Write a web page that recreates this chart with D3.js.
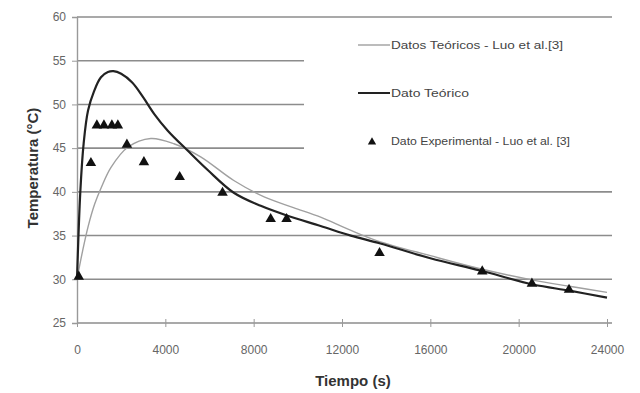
<!DOCTYPE html>
<html>
<head>
<meta charset="utf-8">
<script src="https://cdn.jsdelivr.net/npm/d3@7"></script>
<style>
  body { margin: 0; background: #fff; }
  text { font-family: "Liberation Sans", Arial, sans-serif; }
</style>
</head>
<body>
<svg width="640" height="393"></svg>
<script>
// values
var xTicks = [0, 4000, 8000, 12000, 16000, 20000, 24000];
var yTicks = [25, 30, 35, 40, 45, 50, 55, 60];

// Dato Teorico (black line)
var teoT = [0, 150, 300, 500, 770, 1085, 1400, 1650, 2000, 2500, 3000, 3500, 4110, 5020, 5920, 7100, 8320, 9500, 11030, 12400, 13740, 16000, 18260, 20660, 22300, 24000];
var teoV = [30, 40, 45.5, 49.3, 51.5, 53.1, 53.7, 53.8, 53.5, 52.5, 50.8, 48.9, 47.0, 44.7, 42.5, 39.9, 38.4, 37.3, 36.1, 35.0, 34.1, 32.4, 31.0, 29.4, 28.7, 27.9];

// Datos Teoricos - Luo et al.[3] (grey line)
var luoT = [0, 250, 500, 800, 1100, 1540, 2300, 3340, 4390, 5600, 7100, 8500, 9800, 11030, 12300, 13600, 16000, 18260, 20660, 22300, 24000];
var luoV = [30, 33.2, 36.0, 38.6, 40.5, 42.8, 45.1, 46.1, 45.5, 44.0, 41.3, 39.4, 38.2, 37.1, 35.7, 34.4, 32.7, 31.2, 29.9, 29.2, 28.5];

// Dato Experimental - Luo et al. [3] (triangles)
var expT = [80, 630, 900, 1220, 1580, 1850, 2260, 3030, 4650, 6590, 8770, 9490, 13700, 18350, 20600, 22280];
var expV = [30.3, 43.3, 47.6, 47.6, 47.6, 47.6, 45.4, 43.4, 41.7, 39.9, 36.9, 36.9, 33.0, 30.9, 29.5, 28.8];

var legendLabels = ["Datos Teóricos - Luo et al.[3]", "Dato Teórico", "Dato Experimental - Luo et al.  [3]"];

var svg = d3.select("svg");
var mLeft = 77, mRight = 607, mTop = 17, mBottom = 323;

var x = d3.scaleLinear().domain([0, 24000]).range([mLeft, mRight]);
var y = d3.scaleLinear().domain([25, 60]).range([mBottom, mTop]);

// gridlines
svg.append("g").selectAll("line")
  .data(yTicks.slice(1))
  .enter().append("line")
  .attr("x1", mLeft).attr("x2", 612)
  .attr("y1", function(d) { return y(d); })
  .attr("y2", function(d) { return y(d); })
  .attr("stroke", "#8c8c8c")
  .attr("stroke-width", 1.6);

// y axis
var yAxis = svg.append("g")
  .attr("transform", "translate(" + mLeft + ",0)")
  .call(d3.axisLeft(y).tickValues(yTicks).tickSize(5).tickPadding(6));
yAxis.select(".domain").attr("stroke", "#999").attr("stroke-width", 1.4);
yAxis.selectAll(".tick line").attr("stroke", "#999");
yAxis.selectAll("text").attr("fill", "#666").style("font-size", "12px");

// x axis
var xAxis = svg.append("g")
  .attr("transform", "translate(0," + mBottom + ")")
  .call(d3.axisBottom(x).tickValues(xTicks).tickFormat(d3.format("d")).tickSize(4).tickPadding(18).tickSizeOuter(0));
xAxis.select(".domain").attr("stroke", "#8c8c8c").attr("stroke-width", 1.6)
  .attr("d", "M" + mLeft + ",0H612");
xAxis.selectAll(".tick line").attr("stroke", "#999").attr("y1", -4);
xAxis.selectAll("text").attr("fill", "#666").style("font-size", "12px");

// legend background hides part of the gridlines
svg.append("rect")
  .attr("x", 304).attr("y", 26).attr("width", 310).attr("height", 150)
  .attr("fill", "#fff");

var line = d3.line()
  .x(function(d) { return x(d[0]); })
  .y(function(d) { return y(d[1]); })
  .curve(d3.curveCatmullRom.alpha(0.5));

svg.append("path")
  .datum(d3.zip(luoT, luoV))
  .attr("fill", "none")
  .attr("stroke", "#a0a0a0")
  .attr("stroke-width", 1.4)
  .attr("d", line);

svg.append("path")
  .datum(d3.zip(teoT, teoV))
  .attr("fill", "none")
  .attr("stroke", "#222")
  .attr("stroke-width", 2.2)
  .attr("d", line);

var tri = d3.symbol().type(d3.symbolTriangle).size(48);
svg.append("g").selectAll("path")
  .data(d3.zip(expT, expV))
  .enter().append("path")
  .attr("transform", function(d) { return "translate(" + x(d[0]) + "," + y(d[1]) + ")"; })
  .attr("d", tri)
  .attr("fill", "#111");

// legend
var leg = svg.append("g");
leg.append("line").attr("x1", 358).attr("x2", 390).attr("y1", 45).attr("y2", 45)
  .attr("stroke", "#a0a0a0").attr("stroke-width", 1.4);
leg.append("line").attr("x1", 358).attr("x2", 390).attr("y1", 93).attr("y2", 93)
  .attr("stroke", "#222").attr("stroke-width", 2);
leg.append("path").attr("transform", "translate(372,142)")
  .attr("d", d3.symbol().type(d3.symbolTriangle).size(30)).attr("fill", "#111");
leg.selectAll("text")
  .data(legendLabels)
  .enter().append("text")
  .attr("x", 391)
  .attr("y", function(d, i) { return 49 + i * 48; })
  .attr("fill", "#444")
  .style("font-size", "11px")
  .attr("textLength", function(d, i) { return [172, 78, 179][i]; })
  .attr("lengthAdjust", "spacingAndGlyphs")
  .text(function(d) { return d; });

// axis titles
svg.append("text")
  .attr("transform", "translate(38,168) rotate(-90)")
  .attr("text-anchor", "middle")
  .attr("fill", "#333")
  .style("font-size", "15px")
  .style("font-weight", "bold")
  .text("Temperatura (°C)");

svg.append("text")
  .attr("x", 353).attr("y", 386)
  .attr("text-anchor", "middle")
  .attr("fill", "#333")
  .style("font-size", "15px")
  .style("font-weight", "bold")
  .text("Tiempo (s)");
</script>
</body>
</html>
